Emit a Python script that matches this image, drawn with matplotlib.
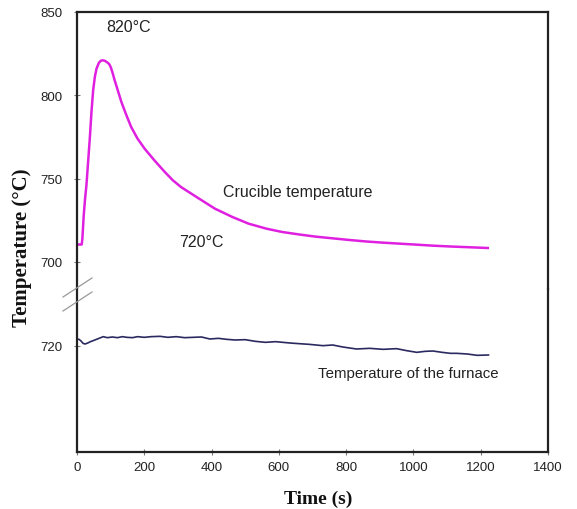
import matplotlib
matplotlib.use("Agg")
import matplotlib.pyplot as plt
from matplotlib.lines import Line2D

# crucible temperature (upper part of the broken axis)
crucible_t = [0, 14, 16, 20, 24, 28, 33, 38, 43, 48, 53, 58, 65, 71, 77, 83, 88, 93, 97,
              101, 105, 112, 122, 132, 145, 161, 180, 201, 230, 261, 285, 309, 363, 410,
              462, 510, 563, 610, 661, 710, 760, 810, 860, 910, 960, 1010, 1058, 1110,
              1160, 1221]
crucible_T = [710.5, 710.5, 714, 728, 738, 746, 760, 774, 790, 803, 811, 816, 819.5, 820.8,
              821, 820.7, 820, 819.3, 818.3, 816.5, 814, 809, 802.5, 796, 789, 781, 774,
              768, 761, 754, 749, 745, 738, 732, 727, 723, 720, 718, 716.5, 715.2, 714.2,
              713.2, 712.3, 711.6, 711, 710.4, 709.8, 709.3, 708.9, 708.4]

# furnace temperature (lower part)
furnace_t = [0, 6, 12, 18, 24, 32, 40, 48, 58, 68, 78, 90, 105, 120, 135, 148, 165, 180,
             200, 220, 247, 270, 295, 320, 345, 370, 395, 420, 445, 470, 500, 530, 560,
             590, 633, 660, 690, 731, 760, 790, 831, 870, 910, 950, 980, 1010, 1035, 1058,
             1085, 1110, 1129, 1160, 1190, 1223]
furnace_T = [724.2, 724.0, 723.0, 721.6, 721.2, 721.8, 722.6, 723.2, 724.0, 724.8, 725.6,
             725.0, 725.4, 725.0, 725.6, 725.2, 725.0, 725.6, 725.2, 725.6, 725.8, 725.2,
             725.6, 725.0, 725.2, 725.4, 724.2, 724.6, 724.0, 723.6, 723.8, 722.8, 722.2,
             722.6, 721.8, 721.4, 721.0, 720.2, 720.6, 719.4, 718.2, 718.6, 718.0, 718.4,
             717.2, 716.2, 716.8, 717.0, 716.2, 715.6, 715.6, 715.2, 714.4, 714.6]

x_ticks = [0, 200, 400, 600, 800, 1000, 1200, 1400]
top_ticks = [700, 750, 800, 850]
bottom_ticks = [720]

W, H = 577, 510
left, right = 77 / W, 548 / W
y_top, y_break, y_bot = 13, 290, 453

fig = plt.figure(figsize=(W / 100, H / 100), dpi=100)
ax_top = fig.add_axes([left, 1 - y_break / H, right - left, (y_break - y_top) / H])
ax_bot = fig.add_axes([left, 1 - y_bot / H, right - left, (y_bot - y_break) / H])

px = 250 / 150  # pixels per degree
ax_top.set_ylim(850 - (y_break - y_top) / px, 850)
ax_bot.set_ylim(720 - (y_bot - 347) / px, 720 + (347 - y_break) / px)
for ax in (ax_top, ax_bot):
    ax.set_xlim(0, 1400)
    for s in ax.spines.values():
        s.set_linewidth(1.6)
        s.set_color("#222222")
    ax.tick_params(direction="inout", length=5, width=0.8, color="#777777",
                   labelsize=9.5, labelcolor="#222222", pad=8)

ax_top.spines["bottom"].set_visible(False)
ax_bot.spines["top"].set_visible(False)
ax_top.set_xticks([])
ax_top.set_yticks(top_ticks)
ax_bot.set_yticks(bottom_ticks)
ax_bot.set_xticks(x_ticks)
for ax in (ax_top, ax_bot):
    for lab in ax.get_yticklabels() + ax.get_xticklabels():
        lab.set_family("Liberation Sans")
ax_bot.tick_params(axis="x", pad=4)

ax_top.plot(crucible_t, crucible_T, color="#e020e0", lw=1.8)
ax_bot.plot(furnace_t, furnace_T, color="#2a2a60", lw=1.2)

txt = dict(family="Liberation Sans", color="#222222")
ax_top.text(152, 841, "820°C", ha="center", va="center", fontsize=11.5, **txt)
ax_top.text(434, 742, "Crucible temperature", ha="left", va="center", fontsize=11.5, **txt)
ax_top.text(303, 712, "720°C", ha="left", va="center", fontsize=11.5, **txt)
ax_bot.text(716, 704, "Temperature of the furnace", ha="left", va="center",
            fontsize=10.8, **txt)

# break marks on the left spine
for y0 in (298, 312):
    fig.add_artist(Line2D([63 / W, 92 / W], [1 - y0 / H, 1 - (y0 - 19) / H],
                          color="#999999", lw=0.9))

lab = dict(family="Liberation Serif", fontweight="bold", color="#111111")
fig.text(22 / W, 1 - 248 / H, "Temperature (°C)", rotation=90, ha="center", va="center",
         fontsize=15, **lab)
fig.text(318 / W, 1 - 499 / H, "Time (s)", ha="center", va="center", fontsize=14, **lab)

fig.savefig("out.png", dpi=100)
